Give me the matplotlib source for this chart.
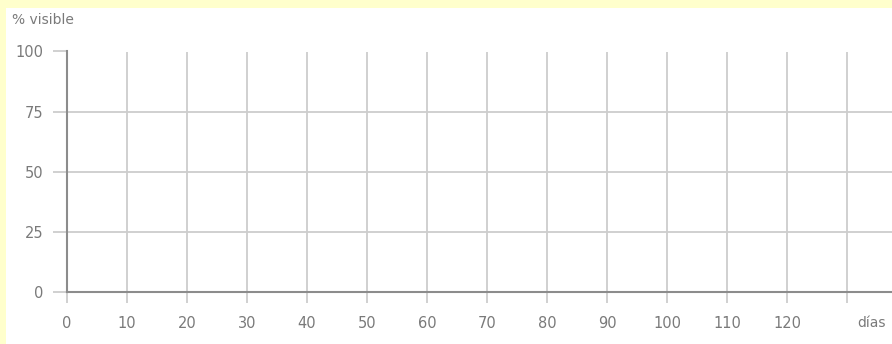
import matplotlib
matplotlib.use("Agg")
import matplotlib.pyplot as plt
from matplotlib.patches import Rectangle

# chart data (empty chart: only axes and grid)
x_ticks = [0, 10, 20, 30, 40, 50, 60, 70, 80, 90, 100, 110, 120, 130]
x_labels = ["0", "10", "20", "30", "40", "50", "60", "70", "80", "90", "100", "110", "120", ""]
y_ticks = [0, 25, 50, 75, 100]
y_labels = ["0", "25", "50", "75", "100"]
x_range = (0, 137.5)
y_range = (0, 100)

W, H = 892, 344
GRID = "#cdcdcd"
AXIS = "#8c8c8c"
TEXT = "#7a7a7a"

fig = plt.figure(figsize=(W / 100, H / 100), dpi=100)
fig.patch.set_facecolor("#ffffcc")
fig.patches.append(Rectangle((6 / W, 0), 1, 1 - 8 / H, transform=fig.transFigure,
                             facecolor="white", edgecolor="none", zorder=-10))

ax = fig.add_axes([67 / W, 1 - 292 / H, (W - 67) / W, (292 - 51.5) / H])
ax.set_facecolor("none")
ax.set_xlim(*x_range)
ax.set_ylim(*y_range)

ax.set_xticks(x_ticks)
ax.set_xticklabels(x_labels)
ax.set_yticks(y_ticks)
ax.set_yticklabels(y_labels)

ax.grid(True, color=GRID, linewidth=1.3)
ax.tick_params(axis="x", length=8, width=1.3, color=GRID, pad=9, labelsize=10.5, labelcolor=TEXT)
ax.tick_params(axis="y", length=10, width=1.3, color=GRID, pad=7, labelsize=10.5, labelcolor=TEXT)
ax.xaxis.get_major_ticks()[0].tick1line.set_color(AXIS)
ax.yaxis.get_major_ticks()[0].tick1line.set_color(AXIS)

for side in ["top", "right"]:
    ax.spines[side].set_visible(False)
for side in ["left", "bottom"]:
    ax.spines[side].set_color(AXIS)
    ax.spines[side].set_linewidth(1.5)
    ax.spines[side].set_zorder(5)

# axis titles
ax.text(134, -31 / 240.5 * 100, "días", ha="center", va="center",
        fontsize=10, color=TEXT, clip_on=False)
fig.text(12 / W, 1 - 20 / H, "% visible", ha="left", va="center",
         fontsize=10, color=TEXT)

fig.savefig("out.png", dpi=100, facecolor=fig.get_facecolor())
